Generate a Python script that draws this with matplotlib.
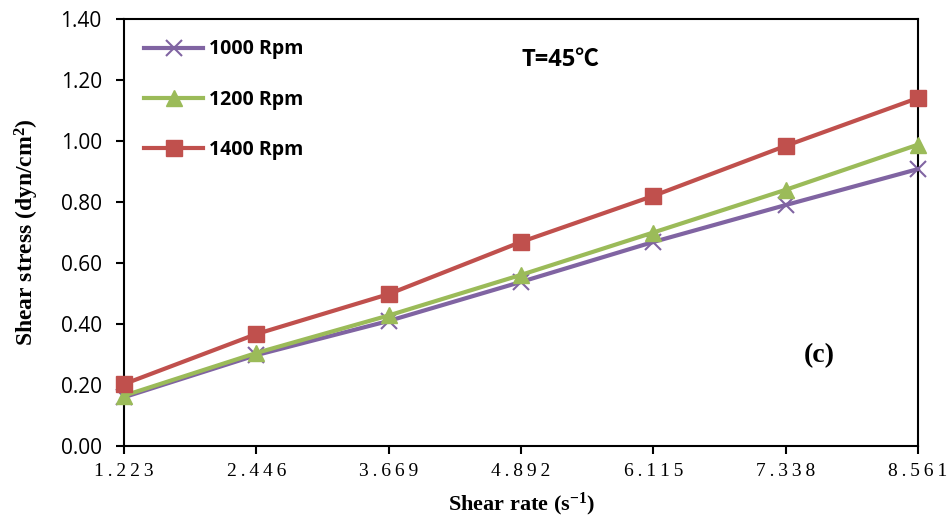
import matplotlib
matplotlib.use("Agg")
import matplotlib.pyplot as plt

shear_rate = ["1.223", "2.446", "3.669", "4.892", "6.115", "7.338", "8.561"]
stress_1000 = [0.16, 0.298, 0.41, 0.538, 0.669, 0.790, 0.908]
stress_1200 = [0.165, 0.305, 0.428, 0.561, 0.700, 0.840, 0.988]
stress_1400 = [0.203, 0.367, 0.498, 0.669, 0.820, 0.984, 1.141]
series_labels = ["1000 Rpm", "1200 Rpm", "1400 Rpm"]
y_ticks = [0.0, 0.2, 0.4, 0.6, 0.8, 1.0, 1.2, 1.4]

plt.rcParams["mathtext.fontset"] = "custom"
plt.rcParams["mathtext.rm"] = "Liberation Serif"
plt.rcParams["mathtext.bf"] = "Liberation Serif:bold"
plt.rcParams["mathtext.default"] = "bf"

fig = plt.figure(figsize=(9.48, 5.21), dpi=100)
ax = fig.add_axes([124 / 948, 1 - 446 / 521, (918 - 124) / 948, (446 - 19) / 521])

x = list(range(len(shear_rate)))
ax.plot(x, stress_1000, color="#8064A2", lw=3, marker="x", ms=11, mew=1.5,
        label=series_labels[0], clip_on=False, zorder=3)
ax.plot(x, stress_1200, color="#9BBB59", lw=3, marker="^", ms=12,
        label=series_labels[1], clip_on=False, zorder=4)
ax.plot(x, stress_1400, color="#C0504D", lw=3, marker="s", ms=11,
        label=series_labels[2], clip_on=False, zorder=5)

ax.set_xlim(0, len(shear_rate) - 1)
ax.set_ylim(0, 1.4)
ax.set_xticks(x)
# widely tracked category labels
ax.set_xticklabels(["\u2009".join(s) for s in shear_rate],
                   fontfamily=["Liberation Serif", "DejaVu Serif"], fontsize=14)
ax.set_yticks(y_ticks)
ax.set_yticklabels([f"{v:.2f}" for v in y_ticks], fontfamily="Open Sans", fontsize=15)
ax.tick_params(axis="both", direction="out", length=6, width=1.5, color="black")
ax.tick_params(axis="x", pad=6)
ax.tick_params(axis="y", pad=10)
for s in ax.spines.values():
    s.set_linewidth(1.5)

ax.set_xlabel("Shear rate (s$^{-1}$)", fontfamily="Liberation Serif",
              fontweight="bold", fontsize=16, labelpad=8)
ax.set_ylabel("Shear stress (dyn/cm$^{2}$)", fontfamily="Liberation Serif",
              fontweight="bold", fontsize=17, labelpad=14)

leg = ax.legend(loc="upper left", frameon=False, handlelength=3.0,
                labelspacing=1.55, borderaxespad=0.35, borderpad=0.7, handletextpad=0.3,
                prop={"family": "Open Sans", "weight": "bold", "size": 14})

ax.text(0.55, 0.905, "T=45\u2103", transform=ax.transAxes, ha="center", va="center",
        fontfamily=["Open Sans", "Noto Sans CJK SC", "DejaVu Sans"], fontweight="bold", fontsize=17)
ax.text(0.876, 0.212, "(c)", transform=ax.transAxes, ha="center", va="center",
        fontfamily="Liberation Serif", fontweight="bold", fontsize=20)

fig.savefig("out.png", dpi=100)
